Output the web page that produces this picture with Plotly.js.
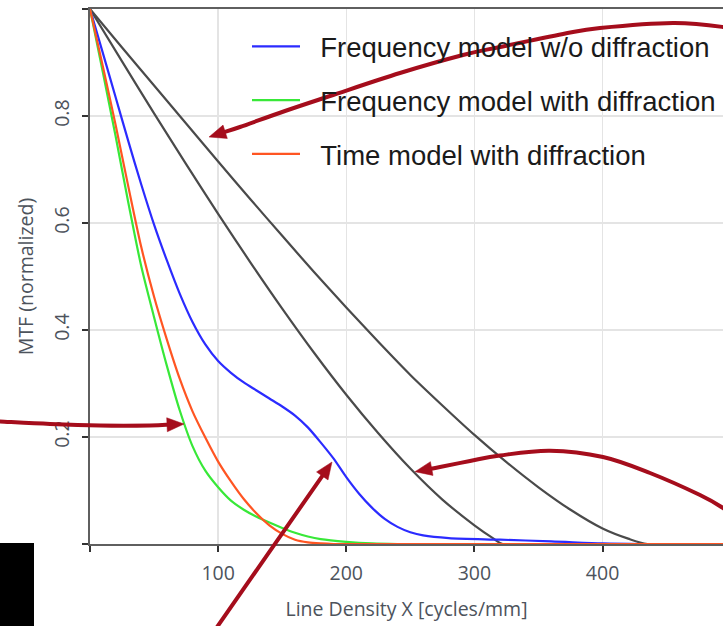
<!DOCTYPE html>
<html><head><meta charset="utf-8">
<script src="https://cdn.plot.ly/plotly-3.0.1.min.js"></script>
<style>html,body{margin:0;padding:0;background:#fff;} #chart{width:723px;height:626px;}</style>
</head><body><div id="chart"></div>
<script>
// ---- data ----
const seriesNames = ['Frequency model w/o diffraction', 'Frequency model with diffraction', 'Time model with diffraction'];

const blueX = [0, 10, 20, 30, 40, 50, 60, 70, 80, 90, 100, 110, 120, 130, 140, 150, 160, 170, 180, 190, 200, 210, 220, 230, 240, 250, 260, 280, 320, 360, 400, 430, 494];
const blueY = [1, 0.918, 0.835, 0.752, 0.672, 0.597, 0.53, 0.468, 0.415, 0.373, 0.342, 0.32, 0.302, 0.287, 0.272, 0.257, 0.24, 0.218, 0.19, 0.16, 0.125, 0.094, 0.068, 0.047, 0.032, 0.022, 0.016, 0.011, 0.008, 0.005, 0.001, 0, 0];

const greenX = [0, 10, 20, 30, 40, 50, 60, 70, 80, 90, 100, 110, 120, 130, 140, 150, 160, 170, 180, 200, 220, 240, 300, 494];
const greenY = [1, 0.882, 0.762, 0.637, 0.519, 0.424, 0.333, 0.25, 0.183, 0.137, 0.106, 0.081, 0.064, 0.051, 0.04, 0.03, 0.021, 0.014, 0.009, 0.004, 0.001, 0, 0, 0];

const orangeX = [0, 10, 20, 30, 40, 50, 60, 70, 80, 90, 100, 110, 120, 130, 140, 150, 160, 170, 180, 190, 250, 494];
const orangeY = [1, 0.893, 0.783, 0.667, 0.555, 0.462, 0.382, 0.309, 0.248, 0.199, 0.154, 0.117, 0.084, 0.057, 0.035, 0.019, 0.008, 0.003, 0.001, 0, 0, 0];

const refOuterX = [0, 25, 50, 75, 100, 125, 150, 175, 200, 225, 250, 275, 300, 325, 350, 375, 400, 420, 435, 494];
const refOuterY = [1, 0.928, 0.857, 0.786, 0.715, 0.645, 0.576, 0.508, 0.442, 0.378, 0.316, 0.259, 0.204, 0.153, 0.106, 0.064, 0.029, 0.01, 0, 0];

const refInnerX = [0, 25, 50, 75, 100, 125, 150, 175, 200, 225, 250, 275, 300, 315, 322, 494];
const refInnerY = [1, 0.902, 0.805, 0.71, 0.617, 0.527, 0.44, 0.357, 0.279, 0.207, 0.141, 0.083, 0.035, 0.01, 0, 0];

const xTickVals = [0, 100, 200, 300, 400];
const xTickText = ['', '100', '200', '300', '400'];
const yTickVals = [0, 0.2, 0.4, 0.6, 0.8, 1];
const yTickText = ['', '0.2', '0.4', '0.6', '0.8', ''];

// ---- layout geometry ----
const W = 723, H = 626, ML = 90, MR = 0, MT = 9, MB = 82;
const PW = W - ML - MR, PH = H - MT - MB;
function toPaper(p) { return [(p[0] - ML) / PW, (H - MB - p[1]) / PH]; }

const RED = '#a50d1c';
function arrowShapes(pts, headLen, headHalf) {
  const tip = pts[pts.length - 1], prev = pts[pts.length - 2];
  let dx = tip[0] - prev[0], dy = tip[1] - prev[1];
  const d = Math.hypot(dx, dy); dx /= d; dy /= d;
  const base = [tip[0] - dx * headLen, tip[1] - dy * headLen];
  const shaft = pts.slice(0, -1).concat([[base[0] + dx * 2, base[1] + dy * 2]]);
  const P = shaft.map(toPaper);
  let path = 'M' + P[0][0] + ',' + P[0][1];
  for (let i = 0; i < P.length - 1; i++) {
    const p0 = P[Math.max(i - 1, 0)], p1 = P[i], p2 = P[i + 1], p3 = P[Math.min(i + 2, P.length - 1)];
    const c1 = [p1[0] + (p2[0] - p0[0]) / 6, p1[1] + (p2[1] - p0[1]) / 6];
    const c2 = [p2[0] - (p3[0] - p1[0]) / 6, p2[1] - (p3[1] - p1[1]) / 6];
    path += ' C' + c1[0] + ',' + c1[1] + ' ' + c2[0] + ',' + c2[1] + ' ' + p2[0] + ',' + p2[1];
  }
  const nx = -dy, ny = dx;
  const a = toPaper(tip), b = toPaper([base[0] + nx * headHalf, base[1] + ny * headHalf]), c = toPaper([base[0] - nx * headHalf, base[1] - ny * headHalf]);
  const head = 'M' + a[0] + ',' + a[1] + ' L' + b[0] + ',' + b[1] + ' L' + c[0] + ',' + c[1] + ' Z';
  return [
    {type: 'path', xref: 'paper', yref: 'paper', path: path, line: {color: RED, width: 4}, layer: 'above'},
    {type: 'path', xref: 'paper', yref: 'paper', path: head, fillcolor: RED, line: {color: RED, width: 0.5}, layer: 'above'}
  ];
}

const arrowTop = [[745, 33], [723, 27], [673, 23], [600, 28], [563, 34], [500, 47], [463, 55], [400, 73], [330, 96], [285, 111], [240, 127], [209, 137]];
const arrowLeft = [[-10, 421], [0, 421.5], [50, 424], [100, 425.5], [150, 425.5], [184, 424]];
const arrowBottom = [[208, 640], [332, 462]];
const arrowRight = [[745, 525], [723, 508], [700, 495], [650, 473], [603, 457], [550, 450.7], [500, 455.5], [470, 461], [440, 467], [415, 471.7]];

const r0 = toPaper([0, 626]), r1 = toPaper([34, 543]);
const shapes = [
  {type: 'rect', xref: 'paper', yref: 'paper', x0: r0[0], y0: r0[1], x1: r1[0], y1: r1[1], fillcolor: '#000', line: {width: 0}, layer: 'above'}
].concat(arrowShapes(arrowTop, 17, 7), arrowShapes(arrowLeft, 17, 7), arrowShapes(arrowBottom, 17, 7), arrowShapes(arrowRight, 17, 7));

const lineW = 2.2;
const pad = '\u00a0\u00a0';
const traces = [
  {x: refOuterX, y: refOuterY, type: 'scatter', mode: 'lines', line: {color: '#4a4a4a', width: lineW, shape: 'spline', smoothing: 0.8}, showlegend: false, hoverinfo: 'skip'},
  {x: refInnerX, y: refInnerY, type: 'scatter', mode: 'lines', line: {color: '#4a4a4a', width: lineW, shape: 'spline', smoothing: 0.8}, showlegend: false, hoverinfo: 'skip'},
  {x: blueX, y: blueY, name: pad + seriesNames[0], legendgroup: 'a', type: 'scatter', mode: 'lines', line: {color: '#2b2bff', width: lineW, shape: 'spline', smoothing: 0.8}},
  {x: greenX, y: greenY, name: pad + seriesNames[1], legendgroup: 'b', type: 'scatter', mode: 'lines', line: {color: '#38e838', width: lineW, shape: 'spline', smoothing: 0.8}},
  {x: orangeX, y: orangeY, name: pad + seriesNames[2], legendgroup: 'c', type: 'scatter', mode: 'lines', line: {color: '#ff5522', width: lineW, shape: 'spline', smoothing: 0.8}}
];

const tickFont = {family: '"Open Sans", "Noto Sans", sans-serif', size: 19.5, color: '#4d535c'};
const titleFont = {family: '"Open Sans", "Noto Sans", sans-serif', size: 19.5, color: '#4d535c'};

const layout = {
  width: W, height: H,
  margin: {l: ML, r: MR, t: MT, b: MB, pad: 0},
  paper_bgcolor: '#fff', plot_bgcolor: '#fff',
  showlegend: true,
  legend: {
    x: (247 - ML) / PW, y: (H - MB - 22) / PH, xanchor: 'left', yanchor: 'top',
    bgcolor: 'rgba(0,0,0,0)', borderwidth: 0, traceorder: 'grouped', tracegroupgap: 15,
    font: {family: '"Liberation Sans", Arial, sans-serif', size: 27.5, color: '#1a1a1a'},
    itemwidth: 48
  },
  xaxis: {
    range: [0, 494], tickmode: 'array', tickvals: xTickVals, ticktext: xTickText,
    showline: true, linecolor: '#5f5f5f', linewidth: 2, mirror: true,
    ticks: 'outside', ticklen: 6, tickwidth: 2, tickcolor: '#333',
    showgrid: true, gridcolor: '#e4e4e4', gridwidth: 1.5, zeroline: false,
    tickfont: tickFont, ticklabelstandoff: 5,
    title: {text: 'Line Density X [cycles/mm]', font: titleFont, standoff: 17}
  },
  yaxis: {
    range: [0, 1], tickmode: 'array', tickvals: yTickVals, ticktext: yTickText,
    showline: true, linecolor: '#5f5f5f', linewidth: 2, mirror: false,
    ticks: 'outside', ticklen: 6, tickwidth: 2, tickcolor: '#333',
    showgrid: true, gridcolor: '#e4e4e4', gridwidth: 1.5, zeroline: false,
    tickfont: tickFont, tickangle: -90, ticklabelstandoff: 5,
    title: {text: 'MTF (normalized)', font: titleFont, standoff: 9}
  },
  shapes: shapes
};

Plotly.newPlot('chart', traces, layout, {displayModeBar: false, staticPlot: true});
</script>
</body></html>
